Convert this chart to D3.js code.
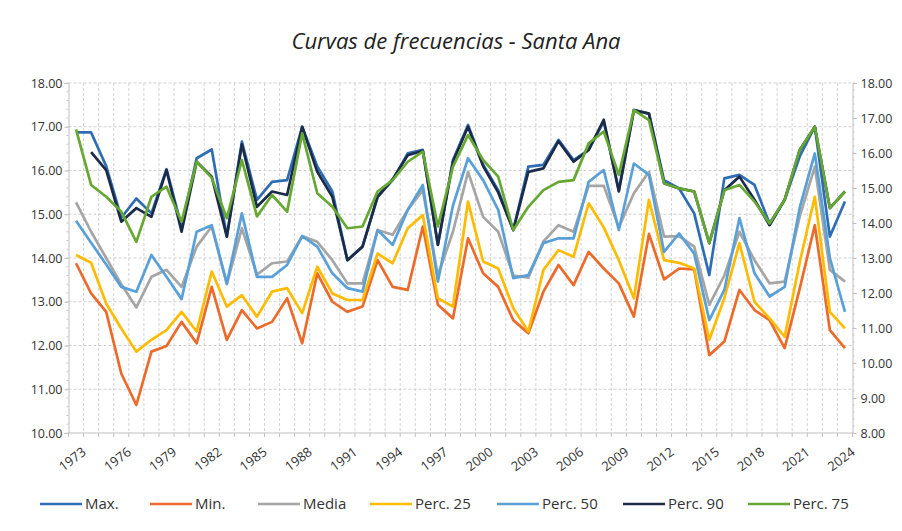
<!DOCTYPE html>
<html><head><meta charset="utf-8">
<script src="https://cdn.jsdelivr.net/npm/d3@7"></script>
<style>
html,body{margin:0;padding:0;background:#fff;}
svg{display:block;}
</style></head>
<body>
<svg id="chart" width="902" height="531"></svg>
<script>
const years = d3.range(1973, 2025);
const seriesNames = ["Max.","Min.","Media","Perc. 25","Perc. 50","Perc. 90","Perc. 75"];
const seriesColors = ["#2e6db4","#ec6a2a","#a5a5a5","#ffbb00","#5aa0d8","#1c2b4a","#66a832"];

const maxVals = [16.87,16.87,16.1,14.92,15.36,15.02,16.03,14.72,16.28,16.48,14.49,16.66,15.33,
  15.74,15.78,17.0,16.09,15.52,13.95,14.26,15.4,15.78,16.39,16.47,14.3,16.24,
  17.04,16.13,15.55,14.64,16.09,16.13,16.7,16.24,16.47,17.12,15.55,17.38,17.3,
  15.78,15.59,15.02,13.61,15.82,15.9,15.67,14.79,15.33,16.32,17.0,14.49,15.29];
const minVals = [13.88,13.19,12.77,11.36,10.64,11.86,11.99,12.54,12.05,13.34,12.13,12.81,12.39,
  12.54,13.08,12.05,13.65,13.0,12.77,12.89,13.95,13.34,13.27,14.72,12.93,12.62,
  14.45,13.65,13.34,12.58,12.28,13.23,13.84,13.38,14.14,13.76,13.42,12.66,14.55,
  13.51,13.76,13.74,11.78,12.09,13.27,12.81,12.58,11.94,13.3,14.75,12.35,11.94];
const mediaVals = [15.27,14.6,14.0,13.4,12.87,13.57,13.73,13.34,14.26,14.72,13.4,14.68,13.62,
  13.88,13.92,14.5,14.37,13.95,13.42,13.42,14.64,14.53,15.1,15.55,13.6,14.6,
  15.97,14.94,14.6,13.6,13.55,14.38,14.75,14.6,15.65,15.65,14.7,15.48,15.97,
  14.49,14.5,14.26,12.93,13.6,14.6,13.95,13.42,13.46,14.95,16.09,13.73,13.46];
const p25Vals = [14.07,13.89,12.96,12.39,11.86,12.13,12.35,12.77,12.32,13.69,12.89,13.15,12.66,
  13.23,13.31,12.74,13.8,13.19,13.04,13.04,14.1,13.88,14.68,14.98,13.08,12.89,
  15.29,13.92,13.76,12.85,12.32,13.73,14.18,14.03,15.25,14.7,13.95,13.08,15.33,
  13.95,13.89,13.76,12.13,13.08,14.34,13.0,12.62,12.2,13.9,15.4,12.77,12.39];
const p50Vals = [14.85,14.35,13.85,13.34,13.23,14.07,13.57,13.06,14.6,14.75,13.42,15.02,13.57,
  13.57,13.84,14.5,14.26,13.65,13.31,13.23,14.64,14.3,15.1,15.67,13.46,15.2,
  16.28,15.78,15.1,13.54,13.61,14.34,14.45,14.45,15.74,16.01,14.64,16.16,15.9,
  14.14,14.56,14.1,12.58,13.27,14.91,13.65,13.12,13.34,15.15,16.39,14.0,12.77];
const p90Vals = [null,16.42,16.01,14.83,15.14,14.94,16.01,14.6,16.2,15.86,14.49,16.6,15.17,
  15.52,15.44,17.0,15.97,15.4,13.95,14.26,15.4,15.8,16.35,16.45,14.3,16.2,
  17.0,16.1,15.5,14.64,15.97,16.05,16.67,16.2,16.47,17.16,15.52,17.38,17.3,
  15.71,15.59,15.52,14.34,15.55,15.86,15.33,14.75,15.33,16.47,17.0,15.14,15.52];
const p75Vals = [16.94,15.67,15.4,15.06,14.37,15.4,15.63,14.83,16.2,15.83,14.91,16.24,14.95,
  15.44,15.06,16.85,15.48,15.17,14.68,14.72,15.52,15.78,16.2,16.43,14.72,16.09,
  16.81,16.24,15.86,14.64,15.17,15.55,15.74,15.78,16.62,16.89,15.9,17.38,17.15,
  15.71,15.59,15.52,14.34,15.55,15.67,15.29,14.79,15.33,16.47,17.0,15.14,15.52];
const leftTicks = d3.range(10, 18.001, 1);
const rightTicks = d3.range(8, 18.001, 1);
const xLabelYears = d3.range(1973, 2025, 3);

const allSeries = [maxVals,minVals,mediaVals,p25Vals,p50Vals,p90Vals,p75Vals];

const svg = d3.select("#chart");
const plot = {left:68.5, right:852.5, top:83, bottom:433};
const FONT = "'Open Sans', sans-serif";

const xBand = d3.scaleBand().domain(years).range([plot.left, plot.right]).paddingInner(0).paddingOuter(0);
const xc = d => xBand(d) + xBand.bandwidth()/2;
const yL = d3.scaleLinear().domain([10,18]).range([plot.bottom, plot.top]);
const yR = d3.scaleLinear().domain([8,18]).range([plot.bottom, plot.top]);

// title
svg.append("text").attr("x", 456).attr("y", 49).attr("text-anchor","middle")
  .attr("font-family",FONT).attr("font-style","italic")
  .attr("font-size", 22).attr("fill","#222").text("Curvas de frecuencias - Santa Ana");

// vertical grid (category boundaries)
const bounds = years.map(y => xBand(y)).concat([plot.right]);
svg.append("g").selectAll("line").data(bounds.slice(1, -1)).join("line")
  .attr("x1", d=>d).attr("x2", d=>d).attr("y1", plot.top).attr("y2", plot.bottom)
  .attr("stroke","#d4d4d4").attr("stroke-width",1).attr("stroke-dasharray","3,2");

// horizontal grid
svg.append("g").selectAll("line").data(leftTicks.slice(1)).join("line")
  .attr("x1", plot.left).attr("x2", plot.right).attr("y1", d=>yL(d)).attr("y2", d=>yL(d))
  .attr("stroke","#cfcfcf").attr("stroke-width",1).attr("stroke-dasharray","3,2");

// left axis
const gL = svg.append("g").attr("transform",`translate(${plot.left},0)`)
  .call(d3.axisLeft(yL).tickValues(leftTicks).tickFormat(d3.format(".2f")).tickSize(4));
gL.select(".domain").attr("stroke","#bfbfbf");
gL.selectAll(".tick line").attr("stroke","#bfbfbf");
gL.selectAll(".tick text").attr("font-family",FONT).attr("font-size",12.5).attr("fill","#333").attr("x",-6);
gL.append("g").selectAll("line").data(d3.range(10,18.001,0.2)).join("line")
  .attr("x1",-2).attr("x2",0).attr("y1",d=>yL(d)).attr("y2",d=>yL(d)).attr("stroke","#c8c8c8");

// right axis
const gR = svg.append("g").attr("transform",`translate(${plot.right},0)`)
  .call(d3.axisRight(yR).tickValues(rightTicks).tickFormat(d3.format(".2f")).tickSize(4));
gR.select(".domain").attr("stroke","#bfbfbf");
gR.selectAll(".tick line").attr("stroke","#bfbfbf");
gR.selectAll(".tick text").attr("font-family",FONT).attr("font-size",12.5).attr("fill","#333").attr("x",8);
gR.append("g").selectAll("line").data(d3.range(8,18.001,0.2)).join("line")
  .attr("x1",0).attr("x2",2).attr("y1",d=>yR(d)).attr("y2",d=>yR(d)).attr("stroke","#c8c8c8");

// bottom axis
svg.append("line").attr("x1",plot.left).attr("x2",plot.right).attr("y1",plot.bottom).attr("y2",plot.bottom)
  .attr("stroke","#bfbfbf");
svg.append("g").selectAll("line").data(bounds).join("line")
  .attr("x1",d=>d).attr("x2",d=>d).attr("y1",plot.bottom).attr("y2",plot.bottom+4).attr("stroke","#bfbfbf");
svg.append("g").selectAll("text").data(xLabelYears).join("text")
  .attr("transform", d => `translate(${xc(d)+5},${plot.bottom+13}) rotate(-37)`)
  .attr("text-anchor","end").attr("dy","0.75em")
  .attr("font-family",FONT).attr("font-size",13).attr("fill","#333")
  .text(d=>d);

// lines
const line = d3.line().defined(d => d.v != null).x(d => xc(d.year)).y(d => yL(d.v));
allSeries.forEach((vals, i) => {
  const data = years.map((yr, j) => ({year: yr, v: vals[j]}));
  svg.append("path").datum(data).attr("d", line).attr("fill","none")
    .attr("stroke", seriesColors[i]).attr("stroke-width", 2.7).attr("stroke-linejoin","round");
});

// legend
const legendX = [40,150,258,370,497,623,748];
const lg = svg.append("g");
seriesNames.forEach((n,i) => {
  const g = lg.append("g").attr("transform",`translate(${legendX[i]},504)`);
  g.append("line").attr("x1",0).attr("x2",42).attr("y1",0).attr("y2",0)
    .attr("stroke",seriesColors[i]).attr("stroke-width",2.7);
  g.append("text").attr("x",45).attr("y",0).attr("dy","0.35em")
    .attr("font-family",FONT).attr("font-size",15).attr("fill","#333").text(n);
});
</script>
</body></html>
